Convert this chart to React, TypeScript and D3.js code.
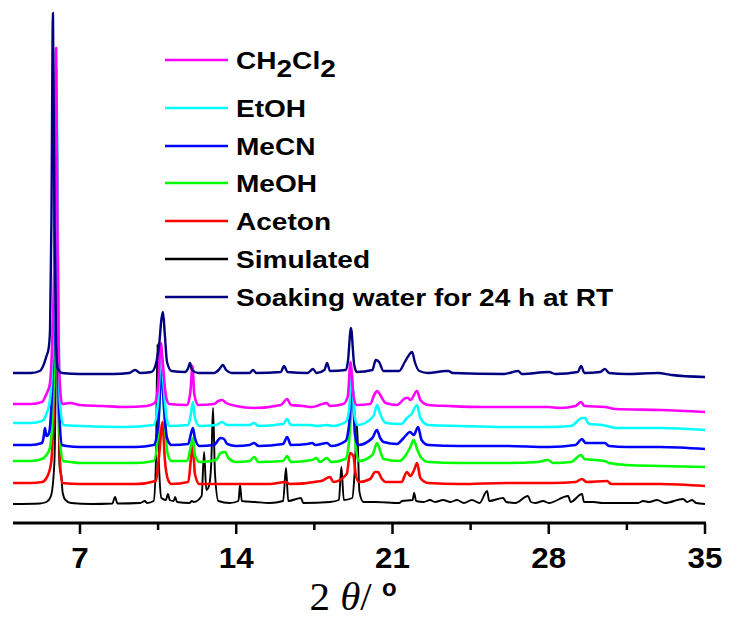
import React from "react";
import * as d3 from "d3";

// 2θ axis
const xTicksMajor = [7, 14, 21, 28, 35];
const xTicksMinor = [10.5, 17.5, 24.5, 31.5];
const xDomain = [4, 35];

// Legend labels (top to bottom) and colours
const legendNames = ["CH2Cl2", "EtOH", "MeCN", "MeOH", "Aceton", "Simulated", "Soaking water for 24 h at RT"];
const legendColors = ["#ff00ff", "#00ffff", "#0000ff", "#00ff00", "#ff0000", "#000000", "#000080"];

// Vertical offsets of each pattern (intensity units)
const offsets = { simulated: 8, aceton: 28, meoh: 49, mecn: 66, etoh: 86, ch2cl2: 106, soaking: 138 };

// Patterns: [2θ, intensity above own baseline]
const simulated: [number, number][] = [
  [4.0, 0], [5.2, 0.5], [5.5, 2], [5.7, 8], [5.85, 40], [5.92, 150], [5.97, 364], [6.02, 150], [6.08, 40], [6.12, 32], [6.16, 30], [6.22, 12], [6.35, 4], [6.6, 1],
  [7.5, 0], [8.45, 0.5], [8.57, 7], [8.68, 0.5], [9.7, 1], [9.91, 3], [10.0, 1], [10.3, 3], [10.4, 40], [10.47, 160], [10.54, 40], [10.65, 6], [10.85, 4], [10.94, 10], [11.02, 4],
  [11.2, 3], [11.26, 7], [11.35, 2], [11.9, 1], [12.02, 3], [12.1, 2], [12.45, 8], [12.56, 52], [12.66, 14], [12.78, 18], [12.88, 40], [12.96, 96], [13.05, 30], [13.2, 3],
  [13.7, 1], [14.1, 3], [14.17, 19], [14.25, 3], [14.84, 2], [15.5, 1], [16.1, 3], [16.23, 36], [16.33, 3], [16.9, 6], [17.0, 1], [18.2, 2], [18.6, 4], [18.71, 37], [18.82, 4],
  [19.2, 6], [19.3, 30], [19.41, 80], [19.52, 12], [19.7, 2], [20.22, 2], [21.3, 1], [21.43, 3], [21.9, 4], [21.97, 11], [22.06, 3], [22.4, 2], [22.68, 4], [22.9, 2],
  [23.27, 4], [23.6, 2], [23.89, 4], [24.2, 1], [24.56, 4], [24.9, 1], [25.24, 13], [25.33, 3], [25.95, 6], [26.1, 2], [26.5, 1], [27.07, 8], [27.2, 2], [27.4, 1], [27.75, 3],
  [28.0, 1], [28.87, 8], [28.98, 2], [29.49, 10], [29.58, 2], [30.0, 2], [30.4, 1], [31.0, 1], [32.0, 1], [32.23, 3], [32.5, 2], [32.85, 4], [33.2, 1], [34.02, 5], [34.2, 2],
  [34.42, 4], [34.6, 1], [35, 0],
];
const aceton: [number, number][] = [
  [4.0, 1], [4.8, 1], [5.3, 2], [5.5, 6], [5.7, 20], [5.85, 100], [5.95, 364], [6.03, 150], [6.1, 25], [6.2, 1], [7, 0], [9.5, 0], [10.4, 3], [10.55, 30], [10.7, 62],
  [10.8, 25], [10.95, 4], [11.1, 0], [11.85, 2], [11.97, 25], [12.05, 42], [12.15, 10], [12.35, 0], [13, 0], [14.0, 0], [14.84, 0], [15.5, 0], [16.23, 2], [16.4, 0],
  [17.8, 3], [18.2, 7], [18.35, 2], [18.95, 10], [19.1, 31], [19.25, 28], [19.35, 10], [19.5, 2], [20.0, 5], [20.22, 12], [20.35, 12], [20.5, 6], [20.7, 2], [21.4, 2],
  [21.65, 12], [21.8, 8], [21.97, 14], [22.1, 21], [22.25, 6], [22.6, 1], [24, 0], [26.13, 1], [28.15, 1], [29.2, 2], [29.49, 5], [29.7, 2], [30.61, 3], [30.8, 0],
  [32.0, 0], [33.0, 0], [35, -2],
];
const meoh: [number, number][] = [
  [4.0, 2], [4.8, 2], [5.3, 4], [5.5, 8], [5.65, 15], [5.78, 50], [5.88, 150], [5.95, 358], [6.02, 150], [6.1, 25], [6.25, 2], [6.6, 1], [7.0, 0], [9.5, 0], [10.3, 2],
  [10.5, 30], [10.66, 108], [10.78, 50], [10.92, 10], [11.1, 2], [11.8, 2], [11.95, 15], [12.06, 25], [12.15, 8], [12.35, 1], [13.1, 3], [13.3, 10], [13.5, 11], [13.65, 5],
  [14.0, 1], [14.6, 2], [14.8, 6], [15.0, 1], [16.1, 2], [16.28, 7], [16.45, 1], [17.4, 3], [17.6, 5], [17.75, 1], [18.07, 5], [18.25, 1], [18.9, 4], [19.05, 20],
  [19.23, 73], [19.36, 15], [19.5, 2], [20.1, 8], [20.31, 20], [20.45, 12], [20.6, 4], [21.3, 2], [21.6, 8], [21.8, 16], [21.95, 23], [22.1, 14], [22.3, 5], [22.6, 1],
  [24, 0], [26.2, 0], [27.5, 1], [27.97, 3], [28.2, 0], [29.0, 1], [29.45, 8], [29.6, 4], [30.52, 2], [30.7, 0], [31.5, -2], [33, -3], [35, -4],
];
const mecn: [number, number][] = [
  [4.0, 1], [4.8, 1], [5.3, 3], [5.38, 10], [5.43, 18], [5.5, 10], [5.6, 12], [5.72, 40], [5.85, 150], [5.93, 361], [6.0, 150], [6.08, 30], [6.2, 1], [6.4, 0], [7.0, -1],
  [9.5, -1], [10.3, 1], [10.5, 20], [10.66, 76], [10.76, 40], [10.9, 8], [11.1, 1], [11.85, 2], [11.97, 12], [12.06, 18], [12.15, 8], [12.35, 0], [13.0, 1], [13.3, 8],
  [13.45, 7], [13.6, 2], [14.0, 0], [14.6, 1], [14.8, 3], [15.0, 0], [16.1, 2], [16.28, 9], [16.45, 1], [17.2, 2], [17.4, 3], [17.55, 1], [18.07, 3], [18.25, 0],
  [18.9, 5], [19.05, 20], [19.2, 61], [19.32, 12], [19.45, 1], [20.1, 8], [20.3, 16], [20.45, 8], [20.6, 4], [21.2, 2], [21.5, 8], [21.79, 14], [21.95, 11], [22.15, 19],
  [22.3, 6], [22.6, 1], [24, 0], [26, 0], [28, -1], [29.2, 1], [29.49, 7], [29.65, 3], [30.52, 3], [30.7, 0], [31.5, -1], [33, -1], [35, -3],
];
const etoh: [number, number][] = [
  [4.0, 3], [4.8, 3], [5.3, 5], [5.5, 12], [5.65, 25], [5.78, 80], [5.88, 200], [5.95, 359], [6.02, 150], [6.1, 25], [6.25, 1], [7, 0], [9.0, -1], [10.3, 1], [10.5, 25],
  [10.64, 74], [10.75, 40], [10.88, 8], [11.0, 0], [11.85, 1], [11.97, 12], [12.06, 24], [12.15, 8], [12.35, 0], [13.1, 1], [13.36, 4], [13.6, 1], [14.6, 1], [14.8, 3],
  [15.0, 0], [16.1, 2], [16.28, 7], [16.45, 1], [17.31, 1], [17.6, 0], [18.07, 1], [18.3, 0], [18.9, 4], [19.05, 15], [19.17, 54], [19.3, 10], [19.45, 1], [20.15, 10],
  [20.31, 21], [20.45, 12], [20.7, 3], [21.4, 2], [21.65, 8], [21.85, 12], [22.1, 21], [22.25, 8], [22.6, 1], [24, 0], [26, -1], [27.97, -1], [29.0, 0], [29.5, 8],
  [29.62, 8], [29.8, 2], [30.4, 1], [30.61, 0], [31, -2], [33, -2], [35, -4],
];
const ch2cl2: [number, number][] = [
  [4.0, 2], [4.8, 2], [5.3, 4], [5.5, 12], [5.65, 22], [5.75, 60], [5.85, 150], [5.93, 358], [6.0, 150], [6.08, 30], [6.2, 2], [6.55, 3], [7, 1], [8.0, 0], [9.0, -1],
  [10.0, 0], [10.35, 3], [10.5, 20], [10.62, 63], [10.72, 40], [10.85, 10], [11.0, 2], [11.8, 1], [11.95, 15], [12.04, 40], [12.12, 12], [12.3, 1], [13.0, 2], [13.2, 5],
  [13.36, 6], [13.55, 3], [14.0, 0], [14.8, -2], [16.0, 1], [16.28, 7], [16.45, 1], [17.0, 0], [17.4, -1], [17.6, 0], [18.05, 3], [18.2, 0], [18.8, 2], [19.0, 10],
  [19.12, 44], [19.25, 10], [19.4, 1], [20.0, 2], [20.2, 12], [20.31, 15], [20.45, 11], [20.7, 3], [21.2, 1], [21.6, 8], [21.7, 8], [21.8, 6], [22.1, 15], [22.25, 6],
  [22.6, 1], [23.5, 0], [25, -1], [26.5, -1], [27.97, -1], [28.5, -2], [29.2, 0], [29.45, 4], [29.6, 0], [30.52, -1], [31, -3], [33, -4], [35, -6],
];
const soaking: [number, number][] = [
  [4.0, 1], [4.8, 1], [5.2, 3], [5.35, 8], [5.5, 18], [5.6, 26], [5.66, 45], [5.72, 150], [5.79, 361], [5.86, 150], [5.93, 30], [6.0, 6], [6.2, 1], [7, 0], [8.5, 0],
  [9.2, 1], [9.47, 4], [9.7, 1], [10.2, 2], [10.4, 10], [10.55, 30], [10.65, 55], [10.72, 62], [10.8, 40], [10.9, 12], [11.1, 3], [11.7, 2], [11.85, 6], [11.93, 11],
  [12.02, 4], [12.3, 1], [13.0, 1], [13.25, 5], [13.4, 9], [13.55, 4], [13.8, 1], [14.6, 1], [14.75, 4], [14.9, 1], [16.0, 2], [16.14, 8], [16.3, 2], [17.2, 1],
  [17.44, 5], [17.6, 1], [17.95, 4], [18.07, 11], [18.2, 3], [18.9, 4], [19.0, 12], [19.14, 46], [19.28, 10], [19.4, 2], [20.1, 4], [20.25, 14], [20.4, 12], [20.6, 3],
  [21.3, 3], [21.55, 12], [21.68, 17], [21.88, 22], [22.0, 12], [22.2, 3], [22.6, 1], [23.4, 3], [23.5, 3], [23.7, 1], [26.0, 0], [26.63, 3], [26.8, 0], [28.01, 2],
  [28.3, 0], [29.3, 2], [29.45, 8], [29.6, 1], [30.3, 2], [30.52, 5], [30.7, 1], [31.5, 0], [32.9, 1], [33.5, -1], [35, -3],
];

const W = 729;
const H = 623;

export default function App() {
  const x = d3.scaleLinear().domain(xDomain).range([13, 705]);
  const y = d3.scaleLinear().domain([0, 500]).range([512, 12]);
  const mk = (off: number) =>
    d3
      .line<[number, number]>()
      .x((d) => x(d[0]))
      .y((d) => y(d[1] + off))
      .curve(d3.curveMonotoneX);

  const drawn = [
    { data: simulated, off: offsets.simulated, color: legendColors[5], w: 1.9 },
    { data: aceton, off: offsets.aceton, color: legendColors[4], w: 2.6 },
    { data: meoh, off: offsets.meoh, color: legendColors[3], w: 2.6 },
    { data: mecn, off: offsets.mecn, color: legendColors[2], w: 2.6 },
    { data: etoh, off: offsets.etoh, color: legendColors[1], w: 2.6 },
    { data: ch2cl2, off: offsets.ch2cl2, color: legendColors[0], w: 2.6 },
    { data: soaking, off: offsets.soaking, color: legendColors[6], w: 2.4 },
  ];

  const axisY = 523;
  const legendY = [60, 108, 146, 183, 221, 259, 297];
  const sans = "'Liberation Sans', Arial, sans-serif";

  return (
    <svg
      width={W}
      height={H}
      style={{ position: "absolute", left: 0, top: 0, display: "block", background: "#fff" }}
    >
      {drawn.map((s, i) => (
        <path key={i} d={mk(s.off)(s.data) || ""} fill="none" stroke={s.color} strokeWidth={s.w} strokeLinejoin="round" />
      ))}

      {/* x axis */}
      <line x1={x(xDomain[0])} x2={x(xDomain[1]) + 1} y1={axisY} y2={axisY} stroke="#000" strokeWidth={3} />
      {xTicksMajor.map((t) => (
        <line key={"M" + t} x1={x(t)} x2={x(t)} y1={axisY} y2={axisY + 11} stroke="#000" strokeWidth={2.5} />
      ))}
      {xTicksMinor.map((t) => (
        <line key={"m" + t} x1={x(t)} x2={x(t)} y1={axisY} y2={axisY + 7} stroke="#000" strokeWidth={2.5} />
      ))}
      {xTicksMajor.map((t) => (
        <g key={"L" + t} transform={`translate(${x(t)},568) scale(1.08,1)`}>
          <text textAnchor="middle" fontFamily={sans} fontWeight="bold" fontSize={29} fill="#000">
            {t}
          </text>
        </g>
      ))}

      {/* axis title */}
      <text x={353} y={610} textAnchor="middle" fontFamily="'Liberation Serif', 'Times New Roman', serif" fontSize={41} fill="#000">
        <tspan>2 </tspan>
        <tspan fontStyle="italic">θ</tspan>
        <tspan>/ </tspan>
        <tspan fontFamily={sans} fontWeight="bold" fontSize={24} dy={-14}>o</tspan>
      </text>

      {/* legend */}
      {legendNames.map((n, i) => (
        <g key={n}>
          <line x1={165} x2={228} y1={legendY[i]} y2={legendY[i]} stroke={legendColors[i]} strokeWidth={2.5} />
          <g transform={`translate(236,${legendY[i] + 8.5}) scale(1.22,1)`}>
            <text fontFamily={sans} fontWeight="bold" fontSize={23} fill="#000">
              {n === "CH2Cl2" ? (
                <>
                  <tspan>CH</tspan>
                  <tspan dy={8}>2</tspan>
                  <tspan dy={-8}>Cl</tspan>
                  <tspan dy={8}>2</tspan>
                </>
              ) : (
                n
              )}
            </text>
          </g>
        </g>
      ))}
    </svg>
  );
}
